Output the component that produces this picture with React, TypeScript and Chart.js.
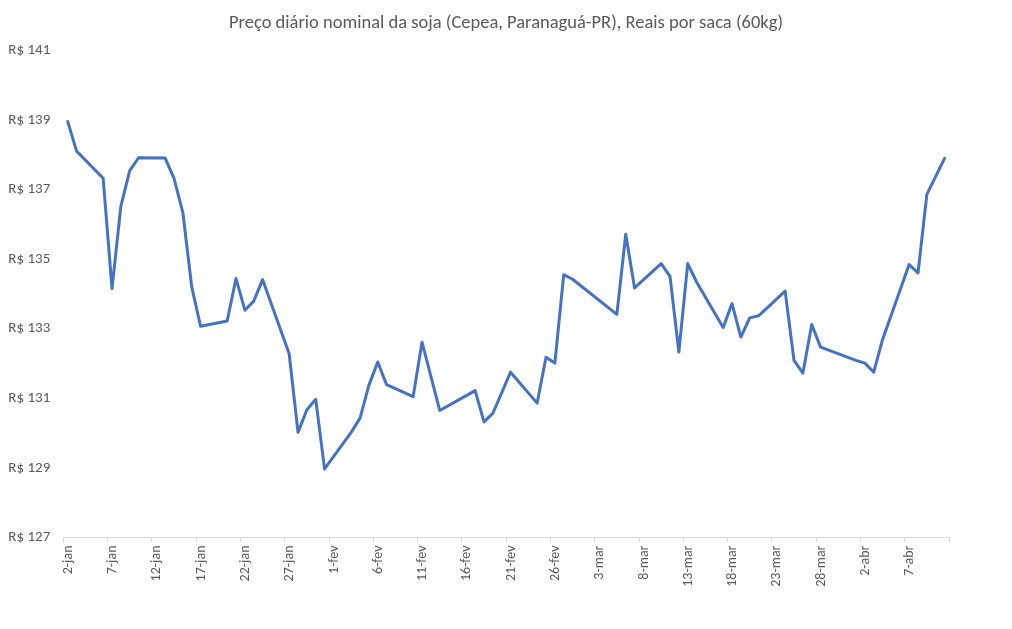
import React, { useEffect, useRef } from "react";
import { Chart, registerables } from "chart.js";

Chart.register(...registerables);

const TITLE = "Preço diário nominal da soja (Cepea, Paranaguá-PR), Reais por saca (60kg)";
const YEAR = 2025;

// Dates (day/month) of the daily quotes
const DATES: string[] = [
  "02/01", "03/01", "06/01", "07/01", "08/01", "09/01", "10/01",
  "13/01", "14/01", "15/01", "16/01", "17/01",
  "20/01", "21/01", "22/01", "23/01", "24/01",
  "27/01", "28/01", "29/01", "30/01", "31/01",
  "03/02", "04/02", "05/02", "06/02", "07/02",
  "10/02", "11/02", "13/02",
  "17/02", "18/02", "19/02", "21/02",
  "24/02", "25/02", "26/02", "27/02", "28/02",
  "05/03", "06/03", "07/03",
  "10/03", "11/03", "12/03", "13/03", "14/03",
  "17/03", "18/03", "19/03", "20/03", "21/03",
  "24/03", "25/03", "26/03", "27/03", "28/03",
  "01/04", "02/04", "03/04", "04/04",
  "07/04", "08/04", "09/04", "11/04",
];

// Price in R$ per 60kg bag
const PRICES: number[] = [
  138.95, 138.1, 137.32, 134.15, 136.52, 137.54, 137.91,
  137.9, 137.32, 136.33, 134.2, 133.07,
  133.22, 134.44, 133.53, 133.79, 134.41,
  132.28, 130.02, 130.67, 130.97, 128.97,
  130.02, 130.43, 131.37, 132.04, 131.39,
  131.05, 132.61, 130.65,
  131.22, 130.32, 130.57, 131.75,
  130.86, 132.18, 132.01, 134.55, 134.42,
  133.41, 135.71, 134.17,
  134.87, 134.5, 132.33, 134.87, 134.34,
  133.03, 133.72, 132.76, 133.31, 133.37,
  134.08, 132.09, 131.72, 133.12, 132.47,
  132.09, 132.01, 131.75, 132.69,
  134.84, 134.6, 136.86, 137.89,
];

const X_TICK_LABELS: string[] = [
  "2-jan", "7-jan", "12-jan", "17-jan", "22-jan", "27-jan", "1-fev", "6-fev",
  "11-fev", "16-fev", "21-fev", "26-fev", "3-mar", "8-mar", "13-mar", "18-mar",
  "23-mar", "28-mar", "2-abr", "7-abr",
];

const Y_MIN = 127;
const Y_MAX = 141;
const Y_STEP = 2;
const X_DAYS = 100; // 2-jan .. 11-abr
const X_STEP = 5;

const FONT = "Carlito, Calibri, Lato, sans-serif";
const TEXT = "#595959";

function dayIndex(s: string): number {
  const [d, m] = s.split("/").map(Number);
  return Math.round((Date.UTC(YEAR, m - 1, d) - Date.UTC(YEAR, 0, 2)) / 86400000);
}

export default function App() {
  const ref = useRef<HTMLCanvasElement | null>(null);

  useEffect(() => {
    document.body.style.margin = "0";
    const ctx = ref.current!.getContext("2d")!;
    const points = DATES.map((d, i) => ({ x: dayIndex(d), y: PRICES[i] }));
    const tickVals: number[] = [];
    for (let v = -0.5; v <= X_DAYS - 0.5 + 1e-9; v += X_STEP) tickVals.push(v);

    const chart = new Chart(ctx, {
      type: "line",
      data: {
        datasets: [
          {
            data: points,
            borderColor: "#4472C4",
            borderWidth: 3,
            pointRadius: 0,
            tension: 0,
            borderJoinStyle: "round",
            borderCapStyle: "round",
            fill: false,
            yAxisID: "y",
          },
        ],
      },
      options: {
        animation: false,
        responsive: false,
        layout: { padding: { left: 0, right: 0, top: 0, bottom: 0 } },
        plugins: {
          legend: { display: false },
          tooltip: { enabled: false },
          title: {
            display: true,
            text: TITLE,
            color: TEXT,
            font: { family: FONT, size: 18.5, weight: "normal" },
            padding: { top: 12, bottom: 16 },
          },
        },
        scales: {
          x: {
            type: "linear",
            min: -0.5,
            max: X_DAYS - 0.5,
            afterBuildTicks: (axis: any) => {
              axis.ticks = tickVals.map((v) => ({ value: v }));
            },
            afterFit: (axis: any) => {
              axis.height = 91.5;
            },
            grid: {
              display: true,
              drawOnChartArea: false,
              drawTicks: true,
              tickLength: 5,
              color: "#d9d9d9",
            },
            border: { display: true, color: "#d9d9d9", width: 1 },
            ticks: {
              autoSkip: false,
              minRotation: 90,
              maxRotation: 90,
              padding: 3,
              labelOffset: 5,
              color: TEXT,
              font: { family: FONT, size: 14 },
              callback: (_v: any, i: number) => X_TICK_LABELS[i] ?? "",
            },
          },
          y: {
            position: "left",
            min: Y_MIN,
            max: Y_MAX,
            afterFit: (axis: any) => {
              axis.width = 63.3;
            },
            grid: { display: false, drawTicks: false },
            border: { display: false },
            ticks: {
              stepSize: Y_STEP,
              crossAlign: "near",
              padding: 13,
              color: TEXT,
              font: { family: FONT, size: 15 },
              callback: (v: any) => "R$ " + v,
            },
          },
          yRight: {
            position: "right",
            display: true,
            min: Y_MIN,
            max: Y_MAX,
            afterFit: (axis: any) => {
              axis.width = 63;
            },
            grid: { display: false },
            border: { display: false },
            ticks: { display: false },
          },
        },
      },
    });
    return () => chart.destroy();
  }, []);

  return (
    <div style={{ width: 1012, height: 629, background: "#fff" }}>
      <canvas ref={ref} width={1012} height={629} />
    </div>
  );
}
